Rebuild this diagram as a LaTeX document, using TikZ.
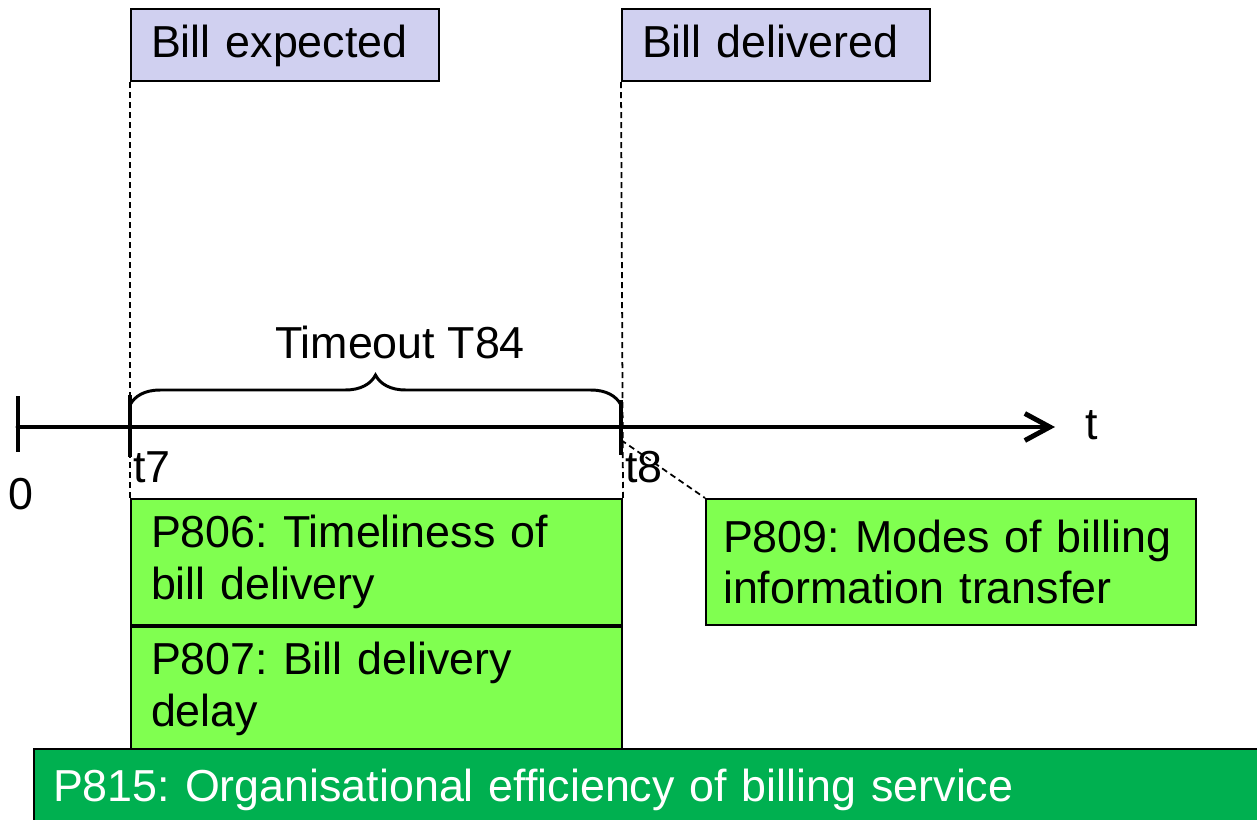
\documentclass[tikz,border=0pt]{standalone}
\usepackage{fontspec}
\setmainfont{Liberation Sans}
\usetikzlibrary{positioning,arrows.meta,decorations.pathreplacing}
\definecolor{evbg}{HTML}{D0D0F0}
\definecolor{parbg}{HTML}{80FF50}
\definecolor{effbg}{HTML}{00B050}
\newcommand{\diagfont}{\frenchspacing\fontsize{25.5}{29.5}\selectfont}
\tikzset{
  event/.style={draw=black, fill=evbg, line width=1.2pt, anchor=north west, minimum height=1.44cm, text width=5.36cm, text height=0.66cm, text depth=0.18cm, inner xsep=0.4cm, align=left, font=\diagfont},
  param/.style={draw=black, fill=parbg, line width=1.2pt, anchor=north west, inner xsep=0.4cm, align=left, font=\diagfont},
  eff/.style={draw=black, fill=effbg, text=white, line width=1.2pt, anchor=north west, minimum height=1.64cm, text width=24cm, inner xsep=0.38cm, align=left, font=\diagfont},
  axis/.style={draw=black, line width=2.8pt, line cap=round},
  tick/.style={draw=black, line width=2.8pt},
  guide/.style={draw=black, line width=1pt, dash pattern=on 0.12cm off 0.08cm},
  brace/.style={draw=black, line width=1.7pt, decorate, decoration={brace, amplitude=0.6cm}},
  lab/.style={text=black, font=\diagfont, inner sep=0pt},
}
\begin{document}
\begin{tikzpicture}[x=0.02cm, y=-0.02cm]
  \useasboundingbox[fill=white] (0,0) rectangle (1257,820);

  % time axis
  \coordinate (T0) at (18,427);
  \coordinate (T7) at (130,427);
  \coordinate (T8) at (621,427);
  \coordinate (tend) at (1055,427);

  % events
  \node[event] (exp) at (130,8) {Bill expected};
  \node[event] (del) at (621,8) {Bill delivered};

  % parameters
  \node[param, minimum height=2.52cm, text width=9.02cm] (p806) at (130,498) {P806: Timeliness of\\bill delivery};
  \node[param, minimum height=2.48cm, text width=9.02cm] (p807) at (p806.south west) {P807: Bill delivery\\delay};
  \node[param, minimum height=2.52cm, text width=9.12cm, inner xsep=0.34cm] (p809) at (705,498) {P809: Modes of billing\\information transfer};
  \node[eff] (p815) at (33,748) {P815: Organisational efficiency of billing service};

  \draw[guide] (exp.south west) -- (p806.north west);
  \draw[guide] (del.south west) -- (p806.north east);
  \draw[guide] ([yshift=-0.26cm]T8) -- (p809.north west);

  \draw[axis, -{Straight Barb[length=5mm, width=5.4mm]}] (T0) -- (tend);
  \draw[tick] ([yshift=0.62cm]T0) -- ([yshift=-0.5cm]T0);
  \draw[tick] ([yshift=0.64cm]T7) -- ([yshift=-0.6cm]T7);
  \draw[tick] ([yshift=0.54cm]T8) -- ([yshift=-0.56cm]T8);

  \draw[brace] ([yshift=0.44cm]T7) -- ([yshift=0.44cm]T8);
  \node[lab] (tmo) at (400,342) {Timeout T84};

  \node[lab] (l0) at (21,494) {0};
  \node[lab] (l7) at (152,467) {t7};
  \node[lab] (l8) at (644,467) {t8};
  \node[lab] (lt) at (1092,425) {t};
\end{tikzpicture}
\end{document}
